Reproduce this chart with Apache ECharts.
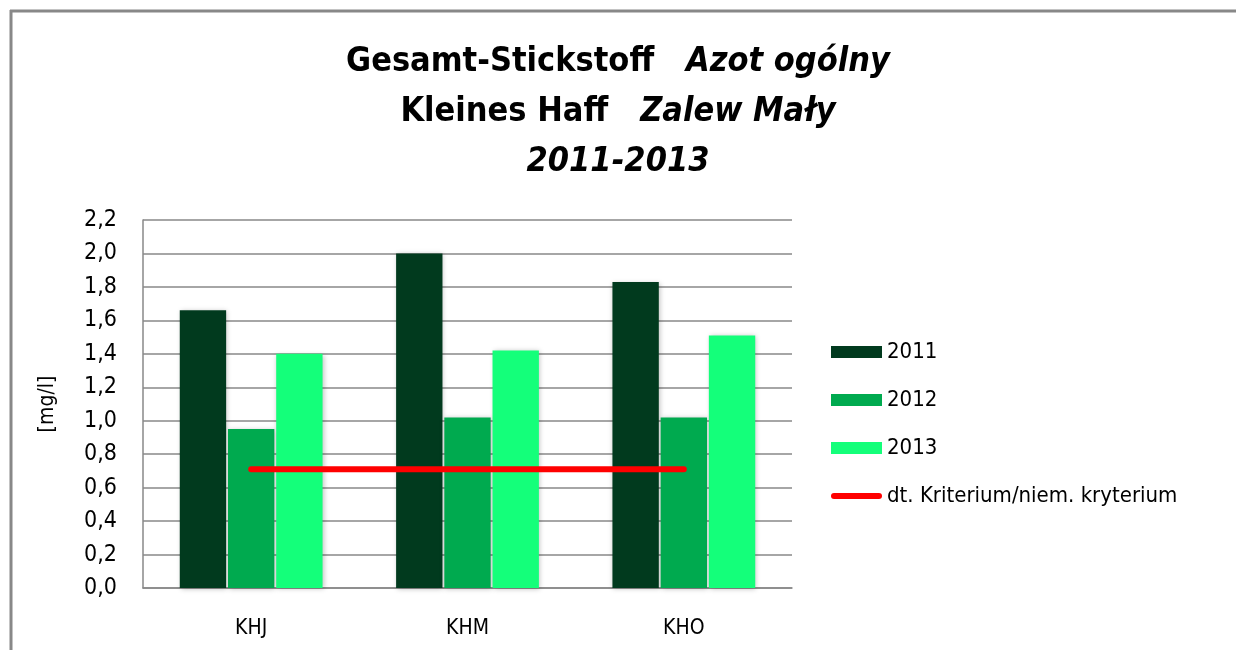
<!DOCTYPE html>
<html><head><meta charset="utf-8">
<script src="https://cdn.jsdelivr.net/npm/echarts@6/dist/echarts.min.js"></script>
<style>html,body{margin:0;padding:0;background:#fff}#c{width:1236px;height:650px}</style>
</head><body><div id="c"></div>
<script>
const categories = ['KHJ', 'KHM', 'KHO'];
const years = ['2011', '2012', '2013'];
const values2011 = [1.66, 2.00, 1.83];
const values2012 = [0.95, 1.02, 1.02];
const values2013 = [1.40, 1.42, 1.51];
const criterion = [0.71, 0.71, 0.71];
const criterionName = 'dt. Kriterium/niem. kryterium';
const yTicks = [0, 0.2, 0.4, 0.6, 0.8, 1.0, 1.2, 1.4, 1.6, 1.8, 2.0, 2.2];

const FONT = '"Liberation Sans Narrow", "DejaVu Sans Condensed", Lato, sans-serif';
const colors = ['#013A1E', '#00AA4F', '#14FF7A'];
const seriesData = [values2011, values2012, values2013];

const chart = echarts.init(document.getElementById('c'), null, {renderer: 'canvas'});
const barSeries = years.map((y, i) => ({
  name: y, type: 'bar', data: seriesData[i],
  barGap: '4%', barCategoryGap: '34%',
  itemStyle: {color: colors[i], shadowBlur: 5, shadowColor: 'rgba(0,0,0,0.25)', shadowOffsetX: 1, shadowOffsetY: 1},
  emphasis: {disabled: true}
}));
const titleLine = (txt, top) => ({text: txt, left: 'center', top: top,
  textStyle: {fontFamily: FONT, fontSize: 34, fontWeight: 'bold', color: '#000',
    rich: {n: {fontFamily: FONT, fontSize: 34, fontWeight: 'bold', color: '#000'},
           i: {fontFamily: FONT, fontSize: 34, fontWeight: 'bold', fontStyle: 'italic', color: '#000'}}}});
chart.setOption({
  animation: false,
  backgroundColor: '#fff',
  title: [
    titleLine('{n|Gesamt-Stickstoff}   {i|Azot ogólny}', 40),
    titleLine('{n|Kleines Haff}   {i|Zalew Mały}', 90),
    titleLine('{i|2011-2013}', 140)
  ],
  graphic: [
    {type: 'line', shape: {x1: 11, y1: 10, x2: 11, y2: 650}, style: {stroke: '#888', lineWidth: 3}},
    {type: 'line', shape: {x1: 10, y1: 11, x2: 1236, y2: 11}, style: {stroke: '#888', lineWidth: 3}}
  ],
  grid: {left: 143, right: 444, top: 220, bottom: 62},
  legend: {
    orient: 'vertical', left: 831, top: 341, itemGap: 26, padding: 0,
    itemWidth: 51, itemHeight: 12, symbolKeepAspect: true,
    textStyle: {fontFamily: FONT, fontSize: 22, color: '#000', lineHeight: 22},
    data: [
      {name: '2011', icon: 'rect'}, {name: '2012', icon: 'rect'}, {name: '2013', icon: 'rect'},
      {name: criterionName, icon: 'path://M3,0 L48,0 A3,3 0 0 1 48,6 L3,6 A3,3 0 0 1 3,0 Z', itemStyle: {color: '#FF0000'}}
    ]
  },
  xAxis: {
    type: 'category', data: categories,
    axisLine: {lineStyle: {color: '#888', width: 1.5}},
    axisTick: {show: false},
    axisLabel: {fontFamily: FONT, fontSize: 21, color: '#000', margin: 30}
  },
  yAxis: {
    type: 'value', min: 0, max: 2.2, interval: 0.2,
    name: '[mg/l]', nameLocation: 'middle', nameGap: 85, nameRotate: 90,
    nameTextStyle: {fontFamily: FONT, fontSize: 21, color: '#000'},
    axisLine: {show: true, lineStyle: {color: '#888', width: 1.5}},
    axisTick: {show: false},
    splitLine: {lineStyle: {color: '#888', width: 1.5}},
    axisLabel: {fontFamily: FONT, fontSize: 23, color: '#000', margin: 26,
      formatter: v => yTicks.indexOf(Math.round(v*10)/10) >= 0 ? v.toFixed(1).replace('.', ',') : ''}
  },
  series: barSeries.concat([{
    name: criterionName, type: 'line', data: criterion, symbol: 'none',
    lineStyle: {color: '#FF0000', width: 6, cap: 'round'}, itemStyle: {color: '#FF0000'},
    z: 5, emphasis: {disabled: true}
  }])
});
</script></body></html>
